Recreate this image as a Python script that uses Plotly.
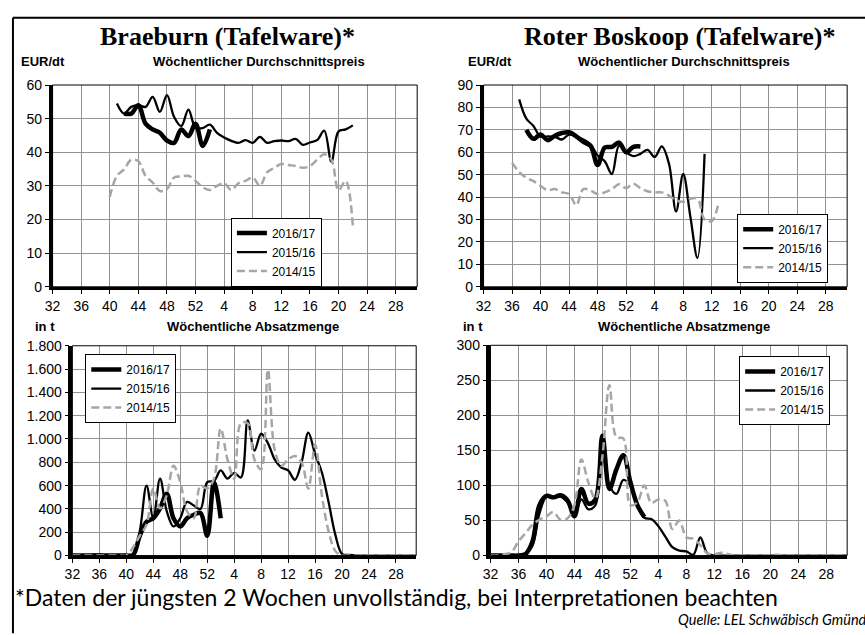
import plotly.graph_objects as go

W, H = 865, 635

# ---------------- data ----------------
tick_weeks = [32, 36, 40, 44, 48, 52, 4, 8, 12, 16, 20, 24, 28]
seasons = ["2016/17", "2015/16", "2014/15"]

# Braeburn price (EUR/dt)
bb_price_1617_weeks = [42, 43, 44, 45, 46, 47, 48, 49, 50, 51, 52, 1, 2]
bb_price_1617 = [51.5, 51.5, 54, 48.5, 46.8, 45.8, 43.5, 42.8, 46.8, 44.8, 48.5, 41.9, 46.8]
bb_price_1516_weeks = [41, 42, 43, 44, 45, 46, 47, 48, 49, 50, 51, 52,
                       1, 2, 3, 4, 5, 6, 7, 8, 9, 10, 11, 12, 13, 14, 15, 16, 17, 18, 19, 20, 21, 22]
bb_price_1516 = [54.5, 51.5, 53.5, 54, 53.5, 56.5, 52, 57, 50.5, 47.8, 52.7, 47.3,
                 47.2, 48.2, 45.8, 44.4, 43.4, 42.8, 43.6, 42.8, 44.6, 42.8, 43.3, 43.5,
                 43.3, 44, 42.2, 42.9, 43.6, 46.4, 37.2, 46.2, 46.8, 48]
bb_price_1415_weeks = [40, 41, 42, 43, 44, 45, 46, 47, 48, 49, 50, 51, 52,
                       1, 2, 3, 4, 5, 6, 7, 8, 9, 10, 11, 12, 13, 14, 15, 16, 17, 18, 19, 20, 21, 22]
bb_price_1415 = [26.7, 33, 34.9, 37.8, 37.3, 33, 31, 28.5, 29.1, 32.5, 32.8, 33, 31.5,
                 29.6, 28.8, 30, 30.8, 28.8, 30.8, 31.5, 32.5, 30, 34, 35.4, 36.5, 36.2,
                 35.9, 35.4, 35.9, 37.8, 39.4, 37.8, 28.7, 31.5, 18.1]

# Roter Boskoop price (EUR/dt)
rb_price_1617_weeks = [38, 39, 40, 41, 42, 43, 44, 45, 46, 47, 48, 49, 50, 51, 52, 1, 2]
rb_price_1617 = [70, 66, 67.9, 65.4, 67.4, 68.6, 68.9, 67.1, 64.6, 62.9, 54.3, 62.1, 62.4,
                 64.3, 60, 62.4, 62.6]
rb_price_1516_weeks = [37, 38, 39, 40, 41, 42, 43, 44, 45, 46, 47, 48, 49, 50, 51, 52,
                       1, 2, 3, 4, 5, 6, 7, 8, 9, 10, 11]
rb_price_1516 = [83.6, 75, 71.7, 66.9, 67.1, 66.9, 65.7, 67.9, 67.1, 65.7, 63.6, 58.6, 56,
                 50.3, 62.9, 60, 58.3, 59.3, 61.1, 57.9, 62.6, 55, 33.6, 50.3, 31.4, 12.9, 59.3]
rb_price_1415_weeks = [36, 37, 38, 39, 40, 41, 42, 43, 44, 45, 46, 47, 48, 49, 50, 51, 52,
                       1, 2, 3, 4, 5, 6, 7, 8, 9, 10, 11, 12, 13]
rb_price_1415 = [55.4, 51.1, 48.6, 47.1, 45, 43.1, 43.6, 42.1, 41.4, 36.4, 43.6, 42.9, 41.4,
                 42.1, 43.6, 45.7, 44, 46, 44, 42.6, 42.1, 42.1, 40.7, 38.6, 37.9, 39.3, 39.3,
                 30, 29.3, 37.9]

# full season weeks 32..52, 1..31
season_weeks = list(range(32, 53)) + list(range(1, 32))

# Braeburn volume (t)
bb_vol_1617_weeks = list(range(32, 53)) + [1, 2]
bb_vol_1617 = [0, 0, 0, 0, 0, 0, 0, 0, 0, 5, 170, 290, 320, 405, 530, 320, 250, 320, 350,
               365, 170, 630, 320]
bb_vol_1516 = [0, 0, 0, 8, 8, 3, 0, 0, 0, 10, 210, 600, 320, 660, 380, 250, 320, 460, 430,
               400, 630,
               640, 730, 660, 710, 670, 1160, 900, 1045, 965, 825, 755, 730, 650, 800, 1055,
               870, 715, 460, 180, 15, 5, 3, 0, 0, 0, 0, 0, 0, 0, 0, 0]
bb_vol_1415 = [0, 0, 0, 0, 0, 0, 0, 0, 0, 70, 170, 265, 575, 405, 520, 770, 630, 380, 320,
               600, 575,
               660, 1090, 825, 660, 1135, 1135, 825, 740, 1595, 910, 770, 825, 855, 800, 575,
               950, 520, 210, 40, 0, 0, 0, 0, 0, 0, 0, 0, 0, 0, 0, 0]

# Roter Boskoop volume (t)
rb_vol_1617_weeks = list(range(32, 53)) + [1, 2]
rb_vol_1617 = [0, 0, 0, 0, 0, 2, 20, 72, 85, 83, 86, 79, 56, 95, 74, 80, 171, 95, 123, 143,
               105, 72, 55]
rb_vol_1516 = [0, 0, 0, 0, 1, 3, 14, 60, 84, 82, 84, 76, 57, 80, 66, 72, 150, 100, 88, 108,
               100,
               72, 54, 52, 42, 27, 12, 7, 6, 1, 26, 3, 0, 0, 0, 0, 0, 0, 0, 0, 0, 0, 0, 0, 0,
               0, 0, 0, 0, 0, 0, 0]
rb_vol_1415 = [0, 0, 2, 5, 20, 32, 44, 51, 56, 62, 51, 53, 72, 137, 104, 81, 141, 243, 169,
               167, 72,
               76, 100, 75, 80, 78, 38, 50, 26, 24, 15, 3, 2, 4, 2, 0, 0, 0, 0, 0, 0, 1, 0, 0,
               0, 0, 0, 0, 0, 0, 0, 0]

vol_ticks_bb = [0, 200, 400, 600, 800, 1000, 1200, 1400, 1600, 1800]
vol_ticks_bb_text = ["0", "200", "400", "600", "800", "1.000", "1.200", "1.400", "1.600", "1.800"]


def pos(week):
    return week - 32 if week >= 32 else week + 20


styles = {
    "2016/17": dict(color="black", width=4.5),
    "2015/16": dict(color="black", width=2.3),
    "2014/15": dict(color="#a6a6a6", width=2.5, dash="8px,4px"),
}

fig = go.Figure()

panels = [
    ("x", "y", "legend", [(bb_price_1617_weeks, bb_price_1617), (bb_price_1516_weeks, bb_price_1516),
                          (bb_price_1415_weeks, bb_price_1415)]),
    ("x2", "y2", "legend2", [(rb_price_1617_weeks, rb_price_1617), (rb_price_1516_weeks, rb_price_1516),
                             (rb_price_1415_weeks, rb_price_1415)]),
    ("x3", "y3", "legend3", [(bb_vol_1617_weeks, bb_vol_1617), (season_weeks, bb_vol_1516),
                             (season_weeks, bb_vol_1415)]),
    ("x4", "y4", "legend4", [(rb_vol_1617_weeks, rb_vol_1617), (season_weeks, rb_vol_1516),
                             (season_weeks, rb_vol_1415)]),
]

for xa, ya, lg, series in panels:
    for name, (wk, vals) in zip(seasons, series):
        fig.add_trace(go.Scatter(
            x=[pos(w) for w in wk], y=vals, name=name, mode="lines",
            line=dict(shape="spline", smoothing=1.0, **styles[name]),
            xaxis=xa, yaxis=ya, legend=lg, hoverinfo="skip"))


def px_x(p):
    return p / W


def px_y(p):
    return 1 - p / H


tick_font = dict(family="Liberation Sans, Arial", size=14, color="black")
grid_col = "#929292"
xcommon = dict(range=[0, 51], tickvals=[pos(w) for w in tick_weeks],
               ticktext=[str(w) for w in tick_weeks], showgrid=True, gridcolor=grid_col,
               gridwidth=1, showline=True, linecolor="black", linewidth=3, ticks="outside",
               ticklen=4, tickcolor="black", tickfont=tick_font, zeroline=False,
               layer="below traces", fixedrange=True)
ycommon = dict(showgrid=True, gridcolor=grid_col, gridwidth=1, showline=True,
               linecolor="black", linewidth=3.5, ticks="outside", ticklen=4, tickcolor="black",
               tickfont=tick_font, zeroline=False, layer="below traces", fixedrange=True)

dom = {
    1: ([45, 413], [79, 286]),
    2: ([480, 847], [79, 286]),
    3: ([65, 412], [346.5, 561.7]),
    4: ([487, 847], [346, 561.7]),
}

layout = dict(width=W, height=H, margin=dict(l=0, r=0, t=0, b=0), autosize=False,
              plot_bgcolor="white", paper_bgcolor="white", showlegend=True)

for i in range(1, 5):
    (x0, x1), (y0, y1) = dom[i]
    xk = "xaxis" if i == 1 else f"xaxis{i}"
    yk = "yaxis" if i == 1 else f"yaxis{i}"
    ysuffix = "y" if i == 1 else f"y{i}"
    xsuffix = "x" if i == 1 else f"x{i}"
    layout[xk] = dict(domain=[px_x(x0), px_x(x1)], anchor=ysuffix, **xcommon)
    yd = dict(domain=[px_y(y1), px_y(y0)], anchor=xsuffix, **ycommon)
    if i == 1:
        yd.update(range=[0, 60], dtick=10)
    elif i == 2:
        yd.update(range=[0, 90], dtick=10)
    elif i == 3:
        yd.update(range=[0, 1800], tickvals=vol_ticks_bb, ticktext=vol_ticks_bb_text)
    else:
        yd.update(range=[0, 300], dtick=50)
    layout[yk] = yd

legend_pos = {"legend": (225, 215), "legend2": (736, 211), "legend3": (78, 355), "legend4": (738, 357)}
for lg, (lx, ly) in legend_pos.items():
    layout[lg] = dict(x=px_x(lx), y=px_y(ly), xanchor="left", yanchor="top",
                      bgcolor="white", bordercolor="black", borderwidth=1,
                      font=dict(family="Liberation Sans, Arial", size=12, color="black"),
                      tracegroupgap=0, itemclick=False, itemdoubleclick=False)

fig.update_layout(**layout)

shapes = []
for i in range(1, 5):
    xs = "x" if i == 1 else f"x{i}"
    ys = "y" if i == 1 else f"y{i}"
    shapes.append(dict(type="rect", xref=f"{xs} domain", yref=f"{ys} domain", x0=0, x1=1,
                       y0=0, y1=1, line=dict(color="black", width=1), layer="above"))
shapes.append(dict(type="line", xref="paper", yref="paper", x0=px_x(5), x1=1.01,
                   y0=px_y(10), y1=px_y(10), line=dict(color="black", width=2)))
shapes.append(dict(type="line", xref="paper", yref="paper", x0=px_x(5), x1=px_x(5),
                   y0=px_y(10), y1=-0.01, line=dict(color="black", width=2)))
fig.update_layout(shapes=shapes)

ann = []
title_font = dict(family="Liberation Serif, Times New Roman", size=26, color="black")
bold_font = dict(family="Liberation Sans, Arial", size=13, color="black")


def add_text(text, x, y, font, xanchor="center", yanchor="middle"):
    ann.append(dict(text=text, x=px_x(x), y=px_y(y), xref="paper", yref="paper",
                    showarrow=False, font=font, xanchor=xanchor, yanchor=yanchor))


add_text("<b>Braeburn (Tafelware)*</b>", 222, 29, title_font)
add_text("<b>Roter Boskoop (Tafelware)*</b>", 678, 29, title_font)
add_text("<b>EUR/dt</b>", 35, 55, bold_font)
add_text("<b>Wöchentlicher Durchschnittspreis</b>", 253, 55, bold_font)
add_text("<b>EUR/dt</b>", 486, 55, bold_font)
add_text("<b>Wöchentlicher Durchschnittspreis</b>", 682, 55, bold_font)
add_text("<b>in t</b>", 37, 327, bold_font)
add_text("<b>Wöchentliche Absatzmenge</b>", 247, 327, bold_font)
add_text("<b>in t</b>", 469, 327, bold_font)
add_text("<b>Wöchentliche Absatzmenge</b>", 682, 327, bold_font)
add_text("*Daten der jüngsten 2 Wochen unvollständig, bei Interpretationen beachten", 5, 604,
         dict(family="Lato, Noto Sans", size=23, color="black"), xanchor="left")
add_text("<i>Quelle: LEL Schwäbisch Gmünd</i>", 869, 627,
         dict(family="Lato, Noto Sans", size=14.5, color="black"), xanchor="right")
fig.update_layout(annotations=ann)

fig.write_html("out.html", config={"displayModeBar": False},
               post_script="document.body.style.margin='0';document.body.style.overflow='hidden';")
